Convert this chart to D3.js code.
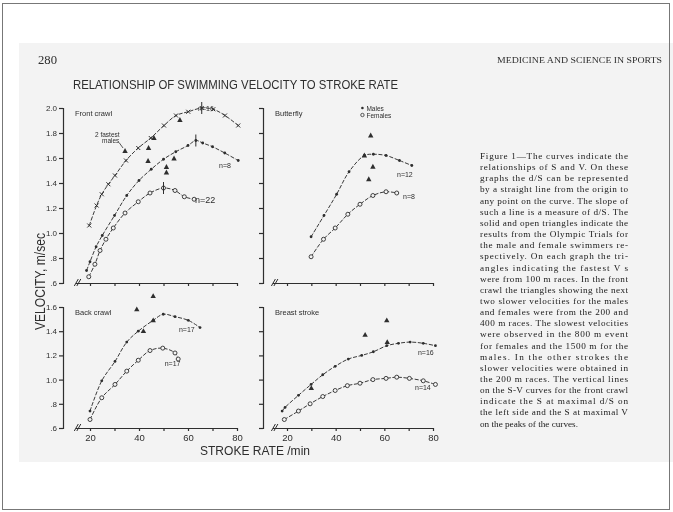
<!DOCTYPE html>
<html><head><meta charset="utf-8">
<script src="https://cdn.jsdelivr.net/npm/d3@7"></script>
<style>body{margin:0;background:#fff} svg{filter:grayscale(1)}</style>
</head><body>
<svg id="c" width="673" height="512"></svg>
<script>
// ---------- DATA (stroke rate /min, velocity m/sec) ----------
const fcTopRate = [19.7, 22.7, 24.8, 27.5, 30.2, 34.7, 39.7, 44.8, 50.2, 55.1, 60.1, 65.6, 70.3, 75.1, 80.5];
const fcTopVel  = [1.06, 1.22, 1.31, 1.39, 1.46, 1.58, 1.68, 1.76, 1.86, 1.94, 1.97, 2.00, 1.99, 1.94, 1.86];
const fcMaleRate = [18.6, 20.0, 22.5, 25.0, 30.0, 35.0, 40.0, 45.0, 50.0, 55.0, 60.0, 63.2, 66.0, 70.0, 75.0, 80.5];
const fcMaleVel  = [0.70, 0.77, 0.89, 0.98, 1.14, 1.30, 1.42, 1.51, 1.59, 1.65, 1.70, 1.74, 1.72, 1.69, 1.64, 1.58];
const fcFemRate = [19.5, 22.0, 24.1, 26.5, 29.5, 34.3, 39.7, 44.5, 50.0, 54.7, 58.5, 62.5];
const fcFemVel  = [0.65, 0.75, 0.86, 0.95, 1.04, 1.16, 1.25, 1.32, 1.36, 1.34, 1.29, 1.27];
const fcTriRate = [34.3, 43.9, 43.7, 54.3, 51.2, 51.2, 46.1, 56.7];
const fcTriVel  = [1.656, 1.68, 1.576, 1.596, 1.528, 1.484, 1.76, 1.904];
const fcPeakRate = [65.6, 63.2, 50.0];
const fcPeakVel  = [2.00, 1.74, 1.36];

const bfMaleRate = [29.9, 35.2, 40.4, 45.5, 51.8, 55.5, 60.7, 66.2, 71.3];
const bfMaleVel  = [0.97, 1.14, 1.31, 1.49, 1.62, 1.63, 1.62, 1.58, 1.54];
const bfFemRate = [29.9, 35.0, 39.8, 45.0, 50.0, 55.3, 60.7, 65.1];
const bfFemVel  = [0.81, 0.95, 1.04, 1.15, 1.23, 1.30, 1.33, 1.32];
const bfTriRate = [54.4, 55.3, 53.6, 51.8];
const bfTriVel  = [1.78, 1.53, 1.43, 1.62];

const bkMaleRate = [20.0, 24.8, 30.2, 35.0, 39.7, 45.8, 49.9, 54.7, 60.1, 64.9];
const bkMaleVel  = [0.74, 0.99, 1.15, 1.31, 1.40, 1.49, 1.54, 1.52, 1.49, 1.43];
const bkFemRate = [20.0, 24.8, 30.2, 35.0, 39.7, 44.5, 49.7, 54.7, 56.0];
const bkFemVel  = [0.67, 0.85, 0.96, 1.07, 1.16, 1.24, 1.26, 1.22, 1.17];
const bkTriRate = [39.1, 45.8, 45.8, 41.8];
const bkTriVel  = [1.58, 1.69, 1.49, 1.40];

const brMaleRate = [18.0, 19.2, 24.7, 29.9, 34.7, 39.8, 45.2, 50.7, 55.5, 61.0, 65.8, 70.6, 76.0, 81.0];
const brMaleVel  = [0.74, 0.77, 0.87, 0.96, 1.04, 1.11, 1.17, 1.20, 1.23, 1.28, 1.30, 1.31, 1.30, 1.28];
const brFemRate = [18.9, 24.7, 29.5, 34.7, 39.8, 44.8, 50.0, 55.3, 60.7, 65.1, 70.3, 76.0, 81.0];
const brFemVel  = [0.67, 0.74, 0.80, 0.86, 0.91, 0.95, 0.97, 1.00, 1.01, 1.02, 1.01, 0.99, 0.96];
const brTriRate = [52.1, 61.0, 30.0, 61.2];
const brTriVel  = [1.37, 1.49, 0.93, 1.31];

const xTickValues = [20, 30, 40, 50, 60, 70, 80];
const xTickLabels = ["20", "", "40", "", "60", "", "80"];
const yTopTicks = [0.6, 0.8, 1.0, 1.2, 1.4, 1.6, 1.8, 2.0];
const yTopLabels = [".6", ".8", "1.0", "1.2", "1.4", "1.6", "1.8", "2.0"];
const yBotTicks = [0.6, 0.8, 1.0, 1.2, 1.4, 1.6];
const yBotLabels = [".6", ".8", "1.0", "1.2", "1.4", "1.6"];

const captionLines = [
 "Figure 1\u2014The curves indicate the",
 "relationships of S and V. On these",
 "graphs the d/S can be represented",
 "by a straight line from the origin to",
 "any point on the curve. The slope of",
 "such a line is a measure of d/S. The",
 "solid and open triangles indicate the",
 "results from the Olympic Trials for",
 "the male and female swimmers re-",
 "spectively. On each graph the tri-",
 "angles indicating the fastest V s",
 "were from 100 m races. In the front",
 "crawl the triangles showing the next",
 "two slower velocities for the males",
 "and females were from the 200 and",
 "400 m races. The slowest velocities",
 "were observed in the 800 m event",
 "for females and the 1500 m for the",
 "males. In the other strokes the",
 "slower velocities were obtained in",
 "the 200 m races. The vertical lines",
 "on the S-V curves for the front crawl",
 "indicate the S at maximal d/S on",
 "the left side and the S at maximal V",
 "on the peaks of the curves."
];

// ---------- DRAWING ----------
const svg = d3.select("#c");
const INK = "#2e2e2e";
const PAGE = "#f3f3f3";
const sans = "'Liberation Sans', Arial, sans-serif";
const serif = "'Liberation Serif', 'Times New Roman', serif";

svg.append("rect").attr("x",0).attr("y",0).attr("width",673).attr("height",512).attr("fill","#fff");
svg.append("rect").attr("x",19).attr("y",43).attr("width",654).attr("height",419).attr("fill",PAGE);
svg.append("rect").attr("x",2.5).attr("y",3.5).attr("width",667).attr("height",506)
  .attr("fill","none").attr("stroke","#777").attr("stroke-width",1);

// header
svg.append("text").attr("x",38).attr("y",64).attr("font-family",serif).attr("font-size",12)
  .attr("fill",INK).attr("textLength",19).attr("lengthAdjust","spacingAndGlyphs").text("280");
svg.append("text").attr("x",497).attr("y",63).attr("font-family",serif).attr("font-size",8.5)
  .attr("fill",INK).attr("textLength",165).attr("lengthAdjust","spacingAndGlyphs")
  .text("MEDICINE AND SCIENCE IN SPORTS");
svg.append("text").attr("x",73).attr("y",88.5).attr("font-family",sans).attr("font-size",13)
  .attr("fill",INK).attr("textLength",325).attr("lengthAdjust","spacingAndGlyphs")
  .text("RELATIONSHIP OF SWIMMING VELOCITY TO STROKE RATE");

// axis titles
svg.append("text").attr("transform","translate(45,281.5) rotate(-90)").attr("text-anchor","middle")
  .attr("font-family",sans).attr("font-size",14).attr("fill",INK)
  .attr("textLength",97).attr("lengthAdjust","spacingAndGlyphs").text("VELOCITY, m/sec");
svg.append("text").attr("x",200).attr("y",454.5).attr("font-family",sans).attr("font-size",12)
  .attr("fill",INK).attr("textLength",110).attr("lengthAdjust","spacingAndGlyphs").text("STROKE  RATE /min");

// caption
const cap = svg.append("g").attr("font-family",serif).attr("font-size",9.2).attr("fill","#1a1a1a");
captionLines.forEach((t,i)=>{
  const tx = cap.append("text").attr("x",480).attr("y",159 + i*11.15).text(t);
  if (i < captionLines.length-1) tx.attr("textLength",148).attr("lengthAdjust","spacing");
});

// panels
const panels = [
  {name:"Front crawl", left:true, top:true,
   series:[{r:fcTopRate,v:fcTopVel,m:"x"},{r:fcMaleRate,v:fcMaleVel,m:"dot"},{r:fcFemRate,v:fcFemVel,m:"open"}],
   tri:{r:fcTriRate,v:fcTriVel},
   labels:[{t:"n=16",s:64.1,v:1.976},{t:"n=8",s:72.7,v:1.52},{t:"n=22",s:62.9,v:1.24,big:true}]},
  {name:"Butterfly", left:false, top:true,
   series:[{r:bfMaleRate,v:bfMaleVel,m:"dot"},{r:bfFemRate,v:bfFemVel,m:"open"}],
   tri:{r:bfTriRate,v:bfTriVel},
   labels:[{t:"n=12",s:65.2,v:1.448},{t:"n=8",s:67.7,v:1.272}]},
  {name:"Back crawl", left:true, top:false,
   series:[{r:bkMaleRate,v:bkMaleVel,m:"dot"},{r:bkFemRate,v:bkFemVel,m:"open"}],
   tri:{r:bkTriRate,v:bkTriVel},
   labels:[{t:"n=17",s:56.3,v:1.393},{t:"n=17",s:50.5,v:1.115}]},
  {name:"Breast stroke", left:false, top:false,
   series:[{r:brMaleRate,v:brMaleVel,m:"dot"},{r:brFemRate,v:brFemVel,m:"open"}],
   tri:{r:brTriRate,v:brTriVel},
   labels:[{t:"n=16",s:73.8,v:1.203},{t:"n=14",s:72.6,v:0.914}]}
];

const triPath = "M0,-2.9L2.7,1.9L-2.7,1.9Z";
const xPath = "M-2,-2L2,2M-2,2L2,-2";

panels.forEach(p=>{
  const x = d3.scaleLinear().domain([14,80]).range(p.left ? [75.3,237] : [272.4,433]);
  const y = p.top ? d3.scaleLinear().domain([0.6,2.0]).range([283,108])
                  : d3.scaleLinear().domain([0.6,1.6]).range([428,307]);
  const yAxX = p.left ? 63 : 263;
  const yTicks = p.top ? yTopTicks : yBotTicks;
  const yLabs = p.top ? yTopLabels : yBotLabels;
  const xBase = y.range()[0];
  const g = svg.append("g");

  const ya = d3.axisLeft(y).tickValues(yTicks).tickSize(4).tickSizeOuter(4).tickPadding(2)
    .tickFormat((d,i)=> p.left ? yLabs[i] : "");
  const yg = g.append("g").attr("transform",`translate(${yAxX},0)`).call(ya);
  yg.selectAll("path,line").attr("stroke",INK).attr("stroke-width",1.2);
  yg.selectAll("text").attr("font-family",sans).attr("font-size",8).attr("fill",INK);

  const xa = d3.axisBottom(x).tickValues(xTickValues).tickSize(3).tickSizeOuter(0).tickPadding(3)
    .tickFormat((d,i)=> p.top ? "" : xTickLabels[i]);
  const xg = g.append("g").attr("transform",`translate(0,${xBase})`).call(xa);
  xg.selectAll("path,line").attr("stroke",INK).attr("stroke-width",1.2);
  xg.selectAll("text").attr("font-family",sans).attr("font-size",9.5).attr("fill",INK);

  const bx = x.range()[0];
  g.append("path").attr("d",`M${bx-1},${xBase+3}L${bx+3},${xBase-4}M${bx+1.5},${xBase+3}L${bx+5.5},${xBase-4}`)
    .attr("stroke",INK).attr("stroke-width",1).attr("fill","none");

  g.append("text").attr("x",yAxX+12).attr("y",y.range()[1]+8).attr("font-family",sans)
    .attr("font-size",7.5).attr("fill",INK).text(p.name);

  const line = d3.line().x(d=>x(d[0])).y(d=>y(d[1])).curve(d3.curveCatmullRom.alpha(0.5));
  p.series.forEach(s=>{
    const pts = s.r.map((r,i)=>[r,s.v[i]]);
    g.append("path").attr("d",line(pts)).attr("fill","none").attr("stroke","#3a3a3a")
      .attr("stroke-width",1).attr("stroke-dasharray","4,1.6");
    pts.forEach(d=>{
      if (s.m==="dot") g.append("circle").attr("cx",x(d[0])).attr("cy",y(d[1])).attr("r",1.4).attr("fill",INK);
      else if (s.m==="open") g.append("circle").attr("cx",x(d[0])).attr("cy",y(d[1])).attr("r",2)
        .attr("fill",PAGE).attr("stroke",INK).attr("stroke-width",0.9);
      else g.append("path").attr("d",xPath).attr("transform",`translate(${x(d[0])},${y(d[1])})`)
        .attr("stroke",INK).attr("stroke-width",1);
    });
  });

  p.tri.r.forEach((r,i)=>{
    g.append("path").attr("d",triPath).attr("transform",`translate(${x(r)},${y(p.tri.v[i])})`).attr("fill",INK);
  });

  p.labels.forEach(l=>{
    g.append("text").attr("x",x(l.s)).attr("y",y(l.v)).attr("font-family",sans)
      .attr("font-size",l.big?9:7).attr("fill",INK).text(l.t);
  });

  if (p.name==="Front crawl") {
    fcPeakRate.forEach((r,i)=>{
      g.append("line").attr("x1",x(r)).attr("x2",x(r)).attr("y1",y(fcPeakVel[i])-6).attr("y2",y(fcPeakVel[i])+6)
        .attr("stroke",INK).attr("stroke-width",1);
    });
    const tx = x(fcTriRate[0]), ty = y(fcTriVel[0]);
    g.append("text").attr("x",tx-30).attr("y",ty-14).attr("font-family",sans).attr("font-size",6.5)
      .attr("fill",INK).text("2 fastest");
    g.append("text").attr("x",tx-23).attr("y",ty-8).attr("font-family",sans).attr("font-size",6.5)
      .attr("fill",INK).text("males");
    g.append("path").attr("d",`M${tx-6},${ty-8.5}L${tx-2},${ty-3}`).attr("stroke",INK).attr("stroke-width",0.8);
  }
  if (p.name==="Butterfly") {
    const lx = x(51);
    g.append("circle").attr("cx",lx).attr("cy",y(2.0)).attr("r",1.3).attr("fill",INK);
    g.append("text").attr("x",lx+4).attr("y",y(2.0)+2.5).attr("font-family",sans).attr("font-size",6.5)
      .attr("fill",INK).text("Males");
    g.append("circle").attr("cx",lx).attr("cy",y(2.0)+7).attr("r",1.7).attr("fill",PAGE)
      .attr("stroke",INK).attr("stroke-width",0.8);
    g.append("text").attr("x",lx+4).attr("y",y(2.0)+9.5).attr("font-family",sans).attr("font-size",6.5)
      .attr("fill",INK).text("Females");
  }
});
</script>
</body></html>
